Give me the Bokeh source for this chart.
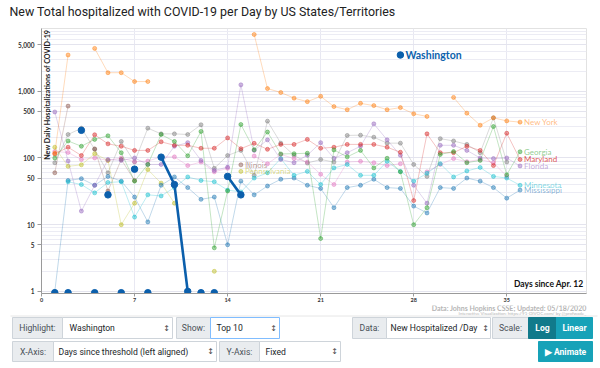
import math
import numpy as np
from bokeh.plotting import figure
from bokeh.models import Range1d, FixedTicker, Label, NumeralTickFormatter
from bokeh.layouts import column
from bokeh.embed import file_html
from bokeh.resources import INLINE

N = None
days = list(range(37))

washington = [N, 0, 0, 260, 0, 28, 0, 68, 0, 103, 40, 1, 0, 0, 53, 28] + [N] * 11 + [3500] + [N] * 9
new_york = [N, 118, 3500, N, 4400, 1900, 1900, 1400, 1400] + [N] * 7 + \
    [7100, 1100, 960, 790, 700, 840, 590, 530, 660, 610, 530, 570, 460, 420, N, 810, 470, 310, 400, 360, 345]
georgia = [N, 100, 180, 150, 190, 215, 120, 45, 80, 225, 177, 108, 250, 4.5, 32, 318, 133, 245, 115, 116, 118,
           6.2, 132, 104, 130, 71, 99, 62, 10, 18, 113, 125, 85, 92, 296, 56, 124]
maryland = [N, 115, 145, 109, 223, 163, 150, 130, 130, 175, 155, 155, 140, 140, 200, 138, 166, 135, 160, 160, 190,
            140, 145, 160, 160, 160, 145, 122, 23, 230, 120, 120, 150, 130, 77, 235, 95]
florida = [N, 490, 90, 16, 39, 95, 92, 100, 80, 80, 150, 170, 92, 65, 73, 1250, 130, 187, 95, 85, 110, 170, 99,
           120, 150, 325, 187, 110, 39, 21, 155, 155, 130, 100, 98, 100, 76]
minnesota = [N, N, 44, 40, 30, 43, 44, 13, 28, 27, 36, 52, 46, 44, 33, 31, 50, 60, 98, 55, 63, 40, 71, 80, 55, 55,
             89, 63, 45, 59, 82, 52, 64, 72, 53, 50, 39]
mississippi = [N, 1, 46, 49, 39, 53, 45, 26, 11, 39, 52, 36, 24, 26, 5, 45, 28, 38, 48, 50, 39, 35, 18, 36, 39, 48,
               36, 35, 19, 15, 36, 35, 50, 45, 36, 25, 33]
illinois = [N, 60, 600, N, 137, 32, 95, 46] + [N] * 7 + [79] + [N] * 21
pennsylvania = [N, 145, 75, 79, 116, 92, 10, 21, 67, 42, 21, N, N, 2, N, 63] + [N] * 21
connecticut = [N, 125, 121, 95, 100, 92, 100, 88, 90, 104, 104, 77, 87, 62, 70, N, 107, 82, 113, 98, 87, 57, 40,
               87, 89, 85, 77, 82, N, 62, 80, 98, 88, 95, 85, 53, N]
massachusetts = [N, 85, 225, 280, 135, 60, 177, 87, 280, 230, 230, 225, 315, 70, 109, 130, 55, 357, 167, 110, 84,
                 95, 87, 218, 220, 205, 167, 167, 80, 53, 195, 180, 160, 120, 400, 87, N]

series = [
    ("Massachusetts", massachusetts, "#7f7f7f", False),
    ("Connecticut", connecticut, "#e377c2", False),
    ("Illinois", illinois, "#8c564b", True),
    ("Pennsylvania", pennsylvania, "#bcbd22", True),
    ("Mississippi", mississippi, "#1f77b4", True),
    ("Minnesota", minnesota, "#17becf", True),
    ("Florida", florida, "#9467bd", True),
    ("Maryland", maryland, "#d62728", True),
    ("Georgia", georgia, "#2ca02c", True),
    ("New York", new_york, "#ff7f0e", True),
]
highlight = ("Washington", washington, "#0b5fac")

y_ticks = [1, 5, 10, 50, 100, 500, 1000, 5000]
x_ticks = [0, 7, 14, 21, 28, 35]

# page geometry (page has no margin in practice)
W = 600
FL, FR, FT, FB = 41, 586, 28, 293     # frame edges on the page
Y0 = 0.93
PPD = 66.7
Y1 = Y0 * 10 ** ((FB - FT) / PPD)
ZERO_Y = 0.955
X0, X1 = 0, 41
MAIN_BOTTOM = 305
CTRL_BOTTOM = 366


def bare(height, y_top, y_bottom):
    f = figure(width=W, height=height, output_backend="svg", toolbar_location=None,
               x_range=Range1d(0, W), y_range=Range1d(y_bottom, y_top),
               min_border_left=0, min_border_right=0, min_border_top=0, min_border_bottom=0,
               frame_align=False)
    f.axis.visible = False
    f.grid.visible = False
    f.outline_line_color = None
    f.background_fill_color = "white"
    f.border_fill_color = "white"
    return f


# ---------- title strip ----------
t = bare(FT, 0, FT)
t.add_layout(Label(x=9, y=11, text="New Total hospitalized with COVID-19 per Day by US States/Territories",
                   text_baseline="middle", text_font="Roboto", text_font_size="12.4px", text_color="#222222"))

# ---------- main chart ----------
p = figure(width=W, height=MAIN_BOTTOM - FT, y_axis_type="log", output_backend="svg", toolbar_location=None,
           x_range=Range1d(X0, X1), y_range=Range1d(Y0, Y1), frame_align=False,
           min_border_left=FL, min_border_right=W - FR, min_border_top=0, min_border_bottom=MAIN_BOTTOM - FB)
p.background_fill_color = "white"
p.border_fill_color = "white"
p.outline_line_color = "#e2e2e2"

minor = [k * 10 ** e for e in range(0, 4) for k in range(1, 10) if k * 10 ** e <= 9000]
p.yaxis.ticker = FixedTicker(ticks=y_ticks, minor_ticks=minor)
p.yaxis.formatter = NumeralTickFormatter(format="0,0")
p.xaxis.ticker = FixedTicker(ticks=x_ticks)
p.ygrid.grid_line_color = "#e4e4ee"
p.ygrid.minor_grid_line_color = "#ececf4"
p.xgrid.grid_line_color = "#e8e8f2"
for ax in (p.xaxis, p.yaxis):
    ax.axis_line_color = "#9a9a9a"
    ax.major_tick_line_color = "#9a9a9a"
    ax.minor_tick_line_color = None
    ax.major_tick_in = 0
    ax.major_label_text_color = "#333333"
    ax.major_label_text_font = "Lato"
    ax.major_label_text_font_style = "bold"
p.yaxis.major_tick_out = 4
p.xaxis.major_tick_out = 3
p.yaxis.major_label_text_font_size = "6.5px"
p.xaxis.major_label_text_font_size = "5.5px"
p.yaxis.major_label_standoff = 3
p.xaxis.major_label_standoff = 1


def line_vals(vals):
    return [np.nan if (v is None or v == 0) else v for v in vals]


def pts(vals):
    xs, ys = [], []
    for d, v in zip(days, vals):
        if v is None:
            continue
        xs.append(d)
        ys.append(v if v > 0 else ZERO_Y)
    return xs, ys


for name, vals, col, lab in series:
    p.line(days, line_vals(vals), line_color=col, line_alpha=0.28, line_width=1)
    xs, ys = pts(vals)
    p.scatter(xs, ys, size=4, fill_color=col, line_color=col, fill_alpha=0.45, line_alpha=0.45)
    if lab:
        li = max(i for i, v in enumerate(vals) if v is not None)
        p.add_layout(Label(x=li, y=vals[li], x_offset=4, text=name, text_baseline="middle",
                           text_font="Lato", text_font_size="8px", text_color=col,
                           text_alpha=0.8 if name == "Maryland" else 0.55))

hname, hvals, hcol = highlight
p.line(days, line_vals(hvals), line_color=hcol, line_width=2.6)
xs, ys = pts(hvals)
p.scatter(xs, ys, size=6.5, fill_color=hcol, line_color=hcol)
hl = max(i for i, v in enumerate(hvals) if v is not None)
p.add_layout(Label(x=hl, y=hvals[hl], x_offset=5, text=hname, text_baseline="middle",
                   text_font="Lato", text_font_size="10.5px", text_font_style="bold", text_color=hcol))


def yv(py):
    return Y0 * 10 ** ((FB - py) / PPD)


def xv(px):
    return X0 + (px - FL) * (X1 - X0) / (FR - FL)


p.add_layout(Label(x=xv(47), y=yv(29), angle=math.pi / 2, text="New Daily Hospitalizations of COVID-19",
                   text_align="right", text_baseline="middle", text_font="Lato", text_font_style="bold",
                   text_font_size="7.2px", text_color="#222222"))
p.add_layout(Label(x=xv(583), y=yv(283), text="Days since Apr. 12", text_align="right", text_baseline="middle",
                   text_font="Lato", text_font_style="bold", text_font_size="8.5px", text_color="#111111"))

# ---------- controls ----------
c = bare(CTRL_BOTTOM - MAIN_BOTTOM, MAIN_BOTTOM, CTRL_BOTTOM)

c.add_layout(Label(x=586, y=307.5, text="Data: Johns Hopkins CSSE; Updated: 05/18/2020", text_align="right",
                   text_baseline="middle", text_font="Lato", text_font_style="bold", text_font_size="7px",
                   text_color="#b5b5b5"))
c.add_layout(Label(x=586, y=313, text="Interactive Visualization: https://91-DIVOC.com/ by @profwade_",
                   text_align="right", text_baseline="middle", text_font="Lato", text_font_size="4.5px",
                   text_color="#b5b5b5"))
c.segment(x0=[10], y0=[315.5], x1=[597], y1=[315.5], line_color="#e6e6e6", line_width=1)

boxes = [
    # (left, right, top, bottom, fill, line)
    (12, 62, 317, 338, "#e9ecef", "#ced4da"),
    (62, 172, 317, 338, "#ffffff", "#ced4da"),
    (176, 210, 317, 338, "#e9ecef", "#ced4da"),
    (210, 279, 317, 338, "#ffffff", "#80bdff"),
    (352, 386, 317, 338, "#e9ecef", "#ced4da"),
    (386, 490, 317, 338, "#ffffff", "#ced4da"),
    (492, 528, 317, 338, "#e9ecef", "#ced4da"),
    (528, 556, 317, 338, "#117a8b", "#117a8b"),
    (556, 592, 317, 338, "#17a2b8", "#17a2b8"),
    (12, 53, 341, 361, "#e9ecef", "#ced4da"),
    (53, 216, 341, 361, "#ffffff", "#ced4da"),
    (219, 259, 341, 361, "#e9ecef", "#ced4da"),
    (259, 340, 341, 361, "#ffffff", "#ced4da"),
    (538, 592, 341, 361, "#17a2b8", "#17a2b8"),
]
c.quad(left=[b[0] for b in boxes], right=[b[1] for b in boxes], top=[b[2] for b in boxes],
       bottom=[b[3] for b in boxes], fill_color=[b[4] for b in boxes], line_color=[b[5] for b in boxes])

texts = [
    # (x, y, text, align, color, bold)
    (37, 327.5, "Highlight:", "center", "#495057", False),
    (69, 327.5, "Washington", "left", "#212529", False),
    (193, 327.5, "Show:", "center", "#495057", False),
    (216, 327.5, "Top 10", "left", "#212529", False),
    (369, 327.5, "Data:", "center", "#495057", False),
    (390, 327.5, "New Hospitalized /Day", "left", "#212529", False),
    (510, 327.5, "Scale:", "center", "#495057", False),
    (542, 327.5, "Log", "center", "#ffffff", True),
    (574, 327.5, "Linear", "center", "#ffffff", True),
    (32.5, 351, "X-Axis:", "center", "#495057", False),
    (58, 351, "Days since threshold (left aligned)", "left", "#212529", False),
    (239, 351, "Y-Axis:", "center", "#495057", False),
    (265, 351, "Fixed", "left", "#212529", False),
    (565, 351, "\u25b6 Animate", "center", "#ffffff", True),
]
for x, y, tx, al, colr, bold in texts:
    c.add_layout(Label(x=x, y=y, text=tx, text_align=al, text_baseline="middle", text_font="Roboto",
                       text_font_size="8.6px", text_color=colr, text_font_style="bold" if bold else "normal"))
for x, y in [(166, 327.5), (273, 327.5), (485, 327.5), (210, 351), (334, 351)]:
    c.add_layout(Label(x=x, y=y, text="\u2195", text_align="center", text_baseline="middle",
                       text_font="DejaVu Sans", text_font_size="8px", text_color="#444444"))

layout = column(t, p, c, spacing=0)
open("out.html", "w").write(file_html(layout, INLINE))
